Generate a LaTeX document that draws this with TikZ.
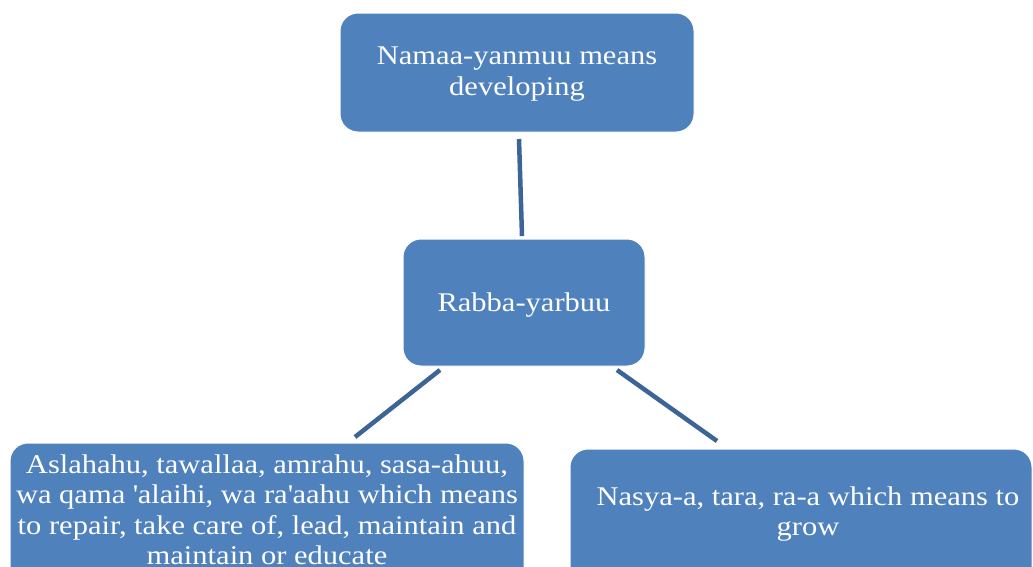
\documentclass[tikz,border=0pt]{standalone}
\usepackage{fontspec}
\setmainfont[FakeStretch=1.13]{Liberation Serif}
\begin{document}
\begin{tikzpicture}[x=1pt,y=-1pt,
  box/.style={rectangle, rounded corners=18pt, fill=boxblue, draw=white, line width=1pt, inner sep=0pt},
  txt/.style={text=white, align=center, font=\fontsize{27}{30.5}\selectfont, inner sep=0pt},
  link/.style={draw=linkblue, line width=4.5pt}]
\definecolor{boxblue}{HTML}{4F81BD}
\definecolor{linkblue}{HTML}{3D6496}
\useasboundingbox[fill=white] (0,0) rectangle (1033,566);
\node[box, minimum width=354pt, minimum height=119pt] (top) at (517,72.5) {};
\node[txt] (toptxt) at (517,74) {Namaa-yanmuu means\\developing};
\node[box, minimum width=242pt, minimum height=127pt] (mid) at (524,302.5) {};
\node[txt] (midtxt) at (524,305) {Rabba-yarbuu};
\node[box, minimum width=514pt, minimum height=160pt] (bl) at (267,523) {};
\node[txt] (bltxt) at (267,510) {Aslahahu, tawallaa, amrahu, sasa-ahuu,\\wa qama \textquotesingle alaihi, wa ra\textquotesingle aahu which means\\to repair, take care of, lead, maintain and\\maintain or educate};
\node[box, minimum width=462pt, minimum height=160pt] (br) at (801,529) {};
\node[txt] (brtxt) at (808,514) {Nasya-a, tara, ra-a which means to\\grow};
\coordinate (t1) at (519,139);
\coordinate (t2) at (522,236);
\coordinate (l1) at (440,370);
\coordinate (l2) at (355,437);
\coordinate (r1) at (617,370);
\coordinate (r2) at (717,441);
\draw[link] (t1) -- (t2);
\draw[link] (l1) -- (l2);
\draw[link] (r1) -- (r2);
\end{tikzpicture}
\end{document}
